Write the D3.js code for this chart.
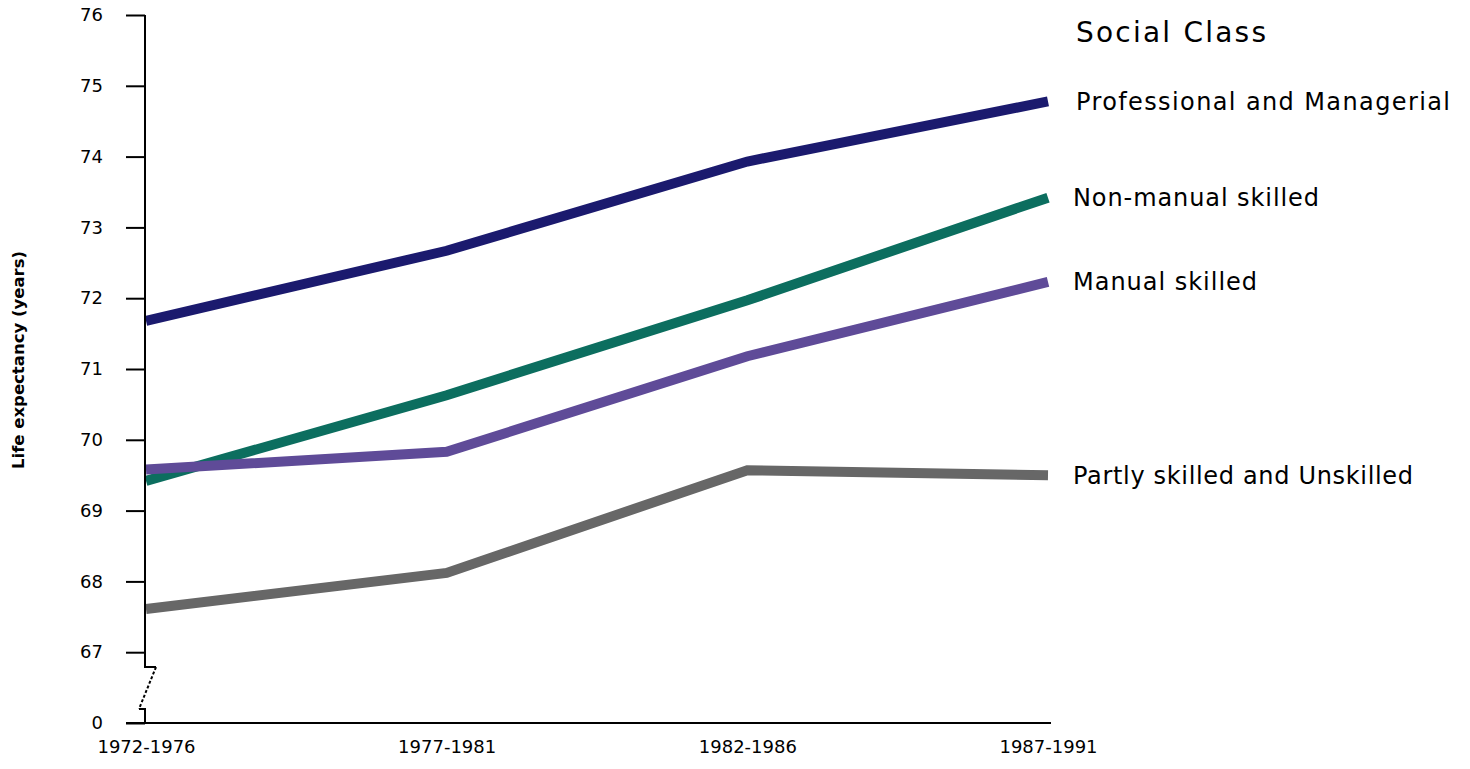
<!DOCTYPE html>
<html>
<head>
<meta charset="utf-8">
<script src="https://cdn.jsdelivr.net/npm/d3@7"></script>
<style>
  html, body { margin: 0; padding: 0; background: #fff; }
  svg { display: block; }
  text { font-family: "DejaVu Sans", sans-serif; fill: #000; }
</style>
</head>
<body>
<svg id="chart" width="1470" height="769"></svg>
<script>
const periods = ["1972-1976", "1977-1981", "1982-1986", "1987-1991"];
const seriesNames = ["Professional and Managerial", "Non-manual skilled", "Manual skilled", "Partly skilled and Unskilled"];
const professional = [71.68, 72.67, 73.93, 74.78];
const nonManual = [69.42, 70.63, 71.97, 73.42];
const manual = [69.58, 69.83, 71.18, 72.23];
const partly = [67.61, 68.12, 69.57, 69.50];
const yTicks = [66, 67, 68, 69, 70, 71, 72, 73, 74, 75, 76];
const yTickLabels = ["0", "67", "68", "69", "70", "71", "72", "73", "74", "75", "76"];
const colors = ["#1b1a6e", "#0c6e5f", "#5f4b98", "#676767"];
const legendTitle = "Social Class";
const yTitle = "Life expectancy (years)";
// label widths (layout)
const labelWidths = [374, 246, 184, 340];

const svg = d3.select("#chart");
const x = d3.scalePoint().domain(periods).range([146, 1048]);
const y = d3.scaleLinear().domain([66, 76]).range([723, 15]);

const data = [professional, nonManual, manual, partly];

// lines
const line = d3.line().x((d, i) => x(periods[i])).y(d => y(d));
svg.append("g").selectAll("path").data(data).join("path")
  .attr("d", d => line(d))
  .attr("fill", "none")
  .attr("stroke", (d, i) => colors[i])
  .attr("stroke-width", 10)
  .attr("stroke-linejoin", "miter")
  .attr("stroke-linecap", "butt");

// y axis
const axisX = 145;
const yAxis = d3.axisLeft(y).tickValues(yTicks)
  .tickFormat(d => yTickLabels[yTicks.indexOf(d)])
  .tickSize(19).tickPadding(8);
const gy = svg.append("g").attr("transform", `translate(${axisX},0)`).call(yAxis);
gy.attr("font-size", null).attr("font-family", null);
gy.select(".domain").remove();
gy.selectAll(".tick line").attr("stroke", "#000").attr("stroke-width", 2);
gy.selectAll(".tick text").style("font-size", "18px").style("font-family", "DejaVu Sans").attr("fill", "#000").attr("dx", "-15");

// y axis line with break
const yBreakTop = y(66) - 56;
const yBreakBot = y(66) - 14;
svg.append("path")
  .attr("d", `M${axisX},${y(76)} V${yBreakTop} H${axisX + 11}`)
  .attr("fill", "none").attr("stroke", "#000").attr("stroke-width", 2);
svg.append("path")
  .attr("d", `M${axisX + 11},${yBreakTop} L${axisX - 6},${yBreakBot}`)
  .attr("fill", "none").attr("stroke", "#000").attr("stroke-width", 2).attr("stroke-dasharray", "3,2");
svg.append("path")
  .attr("d", `M${axisX - 6},${yBreakBot} H${axisX} V${y(66)}`)
  .attr("fill", "none").attr("stroke", "#000").attr("stroke-width", 2);

// x axis
const xAxis = d3.axisBottom(x).tickSize(0).tickPadding(17);
const gx = svg.append("g").attr("transform", `translate(0,${y(66)})`).call(xAxis);
gx.attr("font-size", null).attr("font-family", null);
gx.select(".domain").remove();
gx.selectAll(".tick text").style("font-size", "18px").style("font-family", "DejaVu Sans").attr("fill", "#000");
svg.append("line").attr("x1", 126).attr("x2", 1051).attr("y1", y(66)).attr("y2", y(66))
  .attr("stroke", "#000").attr("stroke-width", 2);

// y title
svg.append("text")
  .attr("transform", `translate(24,360) rotate(-90)`)
  .attr("text-anchor", "middle")
  .attr("font-size", 16.5)
  .attr("font-weight", "bold")
  .text(yTitle);

// legend
svg.append("text").attr("x", 1076).attr("y", 32).attr("dy", "0.35em")
  .attr("font-size", 28)
  .attr("textLength", 190).attr("lengthAdjust", "spacing")
  .text(legendTitle);
svg.append("g").selectAll("text").data(data).join("text")
  .attr("x", (d, i) => i === 0 ? 1076 : 1073)
  .attr("y", d => y(d[d.length - 1]))
  .attr("dy", "0.35em")
  .attr("font-size", 24)
  .attr("textLength", (d, i) => labelWidths[i]).attr("lengthAdjust", "spacing")
  .text((d, i) => seriesNames[i]);
</script>
</body>
</html>
